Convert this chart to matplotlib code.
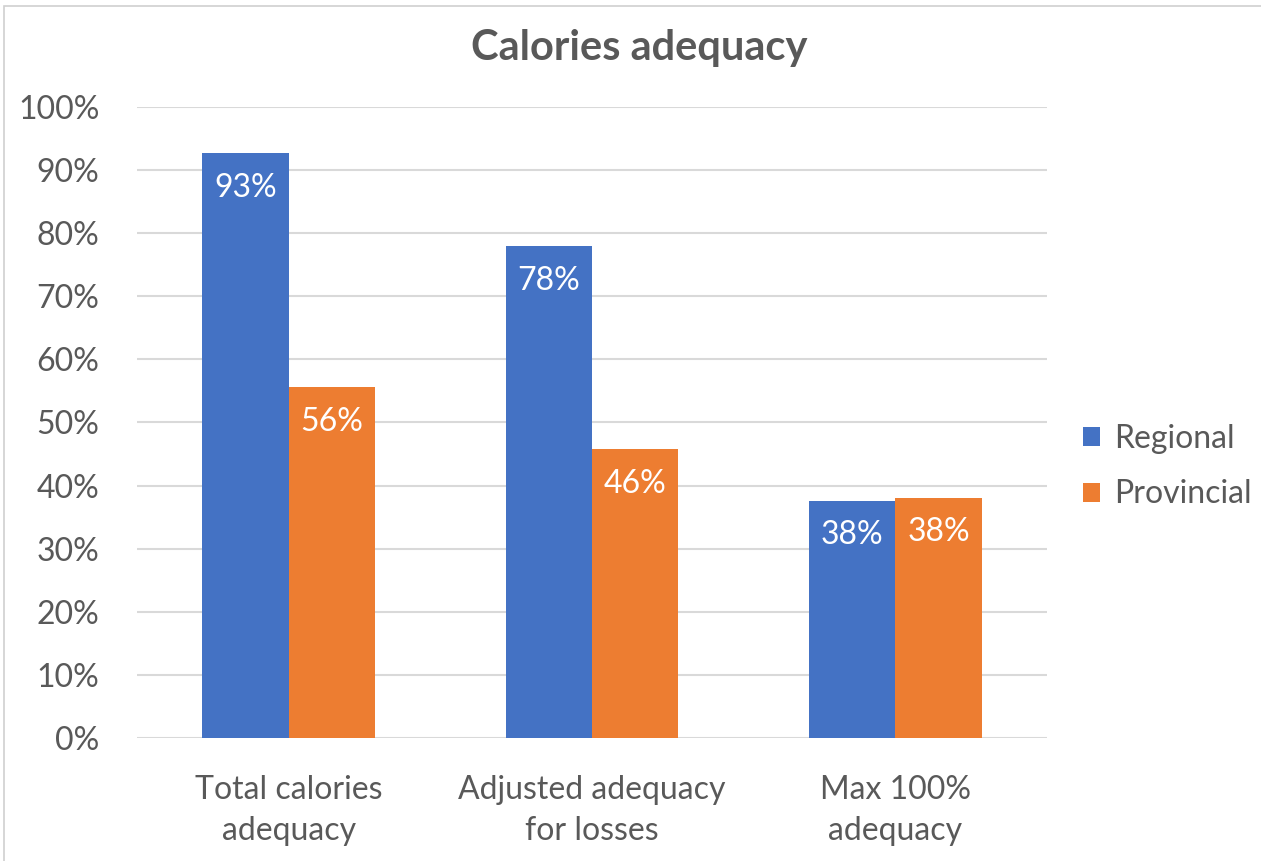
import matplotlib.pyplot as plt
from matplotlib.patches import Rectangle
import numpy as np

plt.rcParams['font.family'] = ['Lato', 'DejaVu Sans']

categories = ['Total calories\nadequacy', 'Adjusted adequacy\nfor losses', 'Max 100%\nadequacy']
regional = [0.927, 0.78, 0.376]
provincial = [0.556, 0.458, 0.381]
yticks = [0, 0.1, 0.2, 0.3, 0.4, 0.5, 0.6, 0.7, 0.8, 0.9, 1.0]

blue = '#4472C4'
orange = '#ED7D31'
text_grey = '#595959'

fig = plt.figure(figsize=(12.61, 8.61), dpi=100)
ax = fig.add_axes([0.1086, 0.1429, 0.7217, 0.7328])

x = np.arange(len(categories))
w = 0.285
b1 = ax.bar(x - w / 2, regional, w, color=blue, label='Regional', zorder=3)
b2 = ax.bar(x + w / 2, provincial, w, color=orange, label='Provincial', zorder=3)

for bars, vals in ((b1, regional), (b2, provincial)):
    for bar, v in zip(bars, vals):
        ax.text(bar.get_x() + bar.get_width() / 2, v - 0.055, '{:.0f}%'.format(v * 100),
                ha='center', va='center', color='white', fontsize=23, zorder=4)

ax.set_xlim(-0.5, 2.5)
ax.set_ylim(0, 1)
ax.set_yticks(yticks)
ax.set_yticklabels(['{:.0f}%'.format(t * 100) for t in yticks])
ax.set_xticks(x)
ax.set_xticklabels(categories, linespacing=1.45)
ax.tick_params(axis='y', length=0, pad=27, labelsize=23, labelcolor=text_grey)
ax.tick_params(axis='x', length=0, pad=27, labelsize=23, labelcolor=text_grey)
ax.yaxis.grid(True, color='#d9d9d9', linewidth=1.5, zorder=0)
for s in ax.spines.values():
    s.set_visible(False)

# title centred on the whole chart area, not the plot area
fig.text(0.507, 0.944, 'Calories adequacy', fontsize=30, fontweight='bold',
         color=text_grey, ha='center', va='center')

leg = ax.legend(loc='center left', bbox_to_anchor=(1.025, 0.43), frameon=False,
                fontsize=23, handlelength=0.55, handleheight=0.55, handletextpad=0.45,
                labelspacing=0.8, borderaxespad=0)
for t in leg.get_texts():
    t.set_color(text_grey)

# thin chart border
fig.patches.append(Rectangle((0.003, -0.01), 1.1, 1.003, transform=fig.transFigure,
                             fill=False, edgecolor='#d0d0d0', linewidth=1.2))

fig.savefig('out.png', dpi=100)
